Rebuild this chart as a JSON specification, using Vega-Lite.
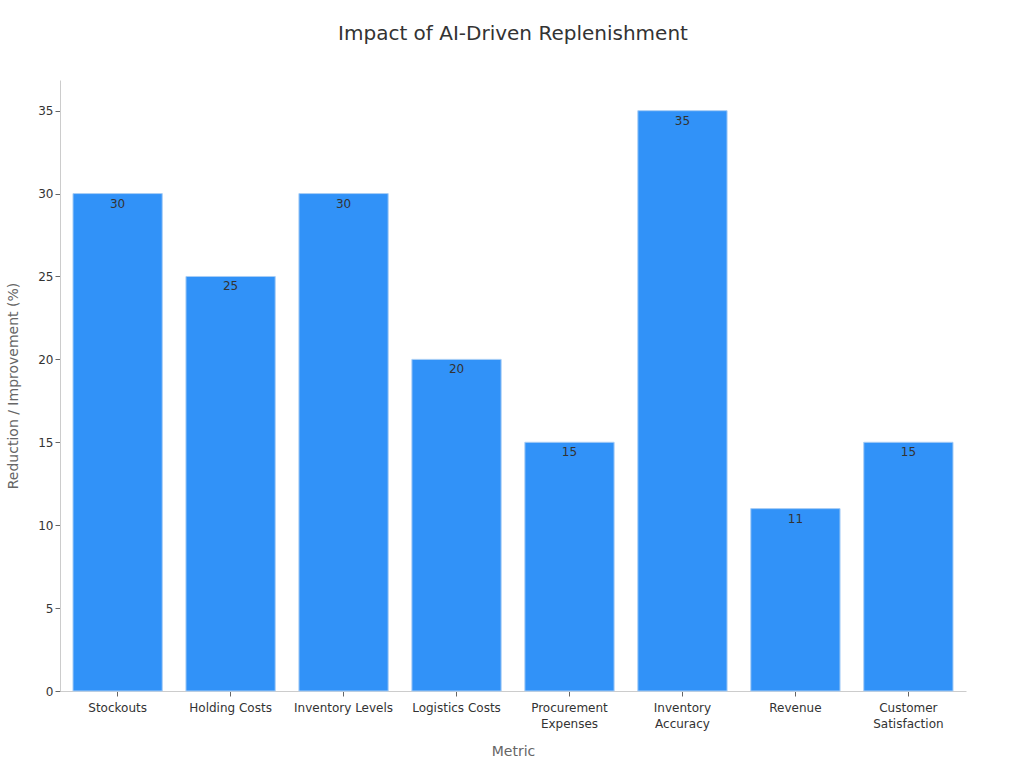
{
  "$schema": "https://vega.github.io/schema/vega-lite/v6.json",
  "autosize": "none",
  "padding": {"left": 60, "top": 80, "right": 58, "bottom": 77},
  "width": 906,
  "height": 611,
  "background": "white",
  "title": {
    "text": "Impact of AI-Driven Replenishment",
    "font": "DejaVu Sans",
    "fontSize": 20,
    "fontWeight": "normal",
    "color": "#333333",
    "anchor": "middle",
    "offset": 36
  },
  "config": {
    "view": {"stroke": null},
    "font": "DejaVu Sans"
  },
  "data": {
    "values": [
      {"metric": "Stockouts", "value": 30},
      {"metric": "Holding Costs", "value": 25},
      {"metric": "Inventory Levels", "value": 30},
      {"metric": "Logistics Costs", "value": 20},
      {"metric": "Procurement Expenses", "value": 15},
      {"metric": "Inventory Accuracy", "value": 35},
      {"metric": "Revenue", "value": 11},
      {"metric": "Customer Satisfaction", "value": 15}
    ]
  },
  "encoding": {
    "x": {
      "field": "metric",
      "type": "nominal",
      "sort": null,
      "scale": {"paddingInner": 0.21, "paddingOuter": 0.115},
      "axis": {
        "title": "Metric",
        "titleFont": "DejaVu Sans",
        "titleFontSize": 14,
        "titleFontWeight": "normal",
        "titleColor": "#666666",
        "titlePadding": 15,
        "labelAngle": 0,
        "labelFontSize": 12,
        "labelColor": "#333333",
        "labelPadding": 6,
        "labelLineHeight": 16,
        "labelExpr": "length(datum.label) > 16 ? split(datum.label, ' ') : datum.label",
        "domainColor": "#cccccc",
        "tickColor": "#666666",
        "tickSize": 5,
        "grid": false
      }
    },
    "y": {
      "field": "value",
      "type": "quantitative",
      "scale": {"domain": [0, 36.85], "nice": false},
      "axis": {
        "title": "Reduction / Improvement (%)",
        "titleFont": "DejaVu Sans",
        "titleFontSize": 14,
        "titleFontWeight": "normal",
        "titleColor": "#666666",
        "titlePadding": 17,
        "values": [0, 5, 10, 15, 20, 25, 30, 35],
        "labelFontSize": 12,
        "labelColor": "#333333",
        "domainColor": "#cccccc",
        "tickColor": "#666666",
        "tickSize": 5,
        "grid": false
      }
    }
  },
  "layer": [
    {
      "mark": {"type": "bar", "color": "#3192f8", "stroke": "#a8cdf5", "strokeWidth": 1}
    },
    {
      "mark": {"type": "text", "baseline": "top", "dy": 5, "fontSize": 12, "color": "#333333", "font": "DejaVu Sans"},
      "encoding": {"text": {"field": "value", "type": "quantitative"}}
    }
  ]
}
